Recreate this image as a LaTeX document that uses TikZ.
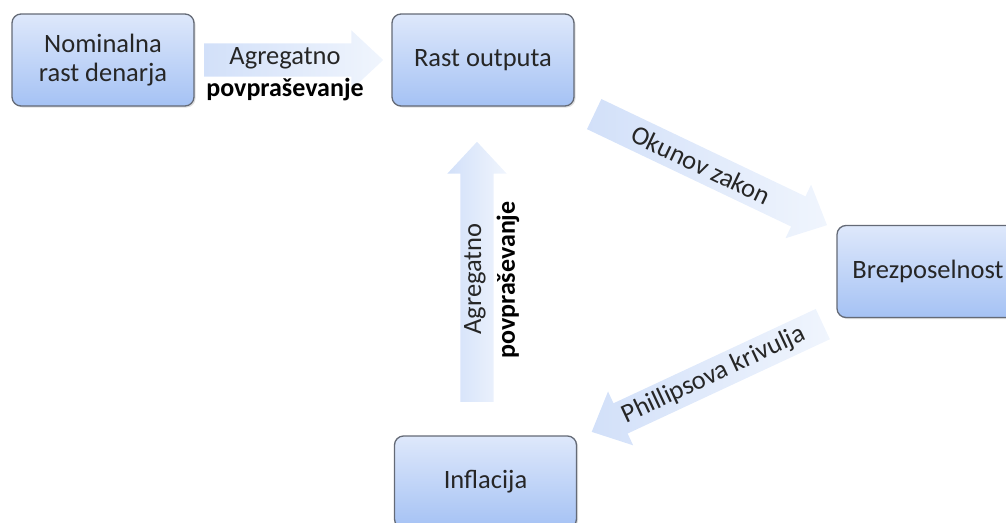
\documentclass[tikz,border=0pt]{standalone}
\usepackage{fontspec}
\setmainfont{Carlito}
\usetikzlibrary{shapes.arrows,shadows}
\definecolor{blokboven}{RGB}{222,232,251}
\definecolor{blokonder}{RGB}{165,194,244}
\definecolor{blokrand}{RGB}{100,106,118}
\definecolor{pijlvol}{RGB}{210,224,249}
\definecolor{pijlleeg}{RGB}{240,245,253}
\tikzset{
  blok/.style={draw=blokrand, line width=1.3pt, rounded corners=9pt,
    top color=blokboven, bottom color=blokonder,
    minimum width=182pt, minimum height=92pt, align=center,
    text=black!85, font=\fontsize{26.5}{29}\selectfont,
    drop shadow={shadow xshift=1.5pt, shadow yshift=-1.5pt, opacity=.25}},
  pijl/.style={single arrow, draw=none, inner xsep=0pt, inner ysep=16.5pt,
    single arrow head extend=13pt, single arrow tip angle=86,
    minimum width=59pt, left color=pijlvol, right color=pijlleeg,
    anchor=tail},
  label/.style={font=\fontsize{26.5}{29}\selectfont, text=black!85, inner sep=0pt},
  vet/.style={label, font=\fontsize{26}{29}\selectfont\bfseries, text=black}
}
\begin{document}
\begin{tikzpicture}[x=1pt,y=-1pt]
  \useasboundingbox (0,0) rectangle (1006,522);
  \node[blok] (nom)  at (103,60)    {Nominalna\\rast denarja};
  \node[blok] (rast) at (483,60)    {Rast outputa};
  \node[blok] (brez) at (928,271.5) {Brezposelnost};
  \node[blok] (infl) at (485.5,482) {Inflacija};

  \node[pijl, minimum height=179pt] (pa) at (204,60) {};
  \node[pijl, minimum height=260pt, rotate=90] (pb) at (477,402) {};
  \node[pijl, minimum height=258pt, rotate=-25.5] (pc) at (594,114) {};
  \node[pijl, minimum height=255pt, rotate=205] (pd) at (823,324) {};

  \node[label] (la) at (285,58) {Agregatno};
  \node[vet]   (va) at (285,90) {povpraševanje};
  \node[label, rotate=90] (lb) at (475,279) {Agregatno};
  \node[vet, rotate=90]   (vb) at (508,280) {povpraševanje};
  \node[label, rotate=-25.5] (lc) at (701,165) {Okunov zakon};
  \node[label, rotate=25]    (ld) at (714,375) {Phillipsova krivulja};
\end{tikzpicture}
\end{document}
